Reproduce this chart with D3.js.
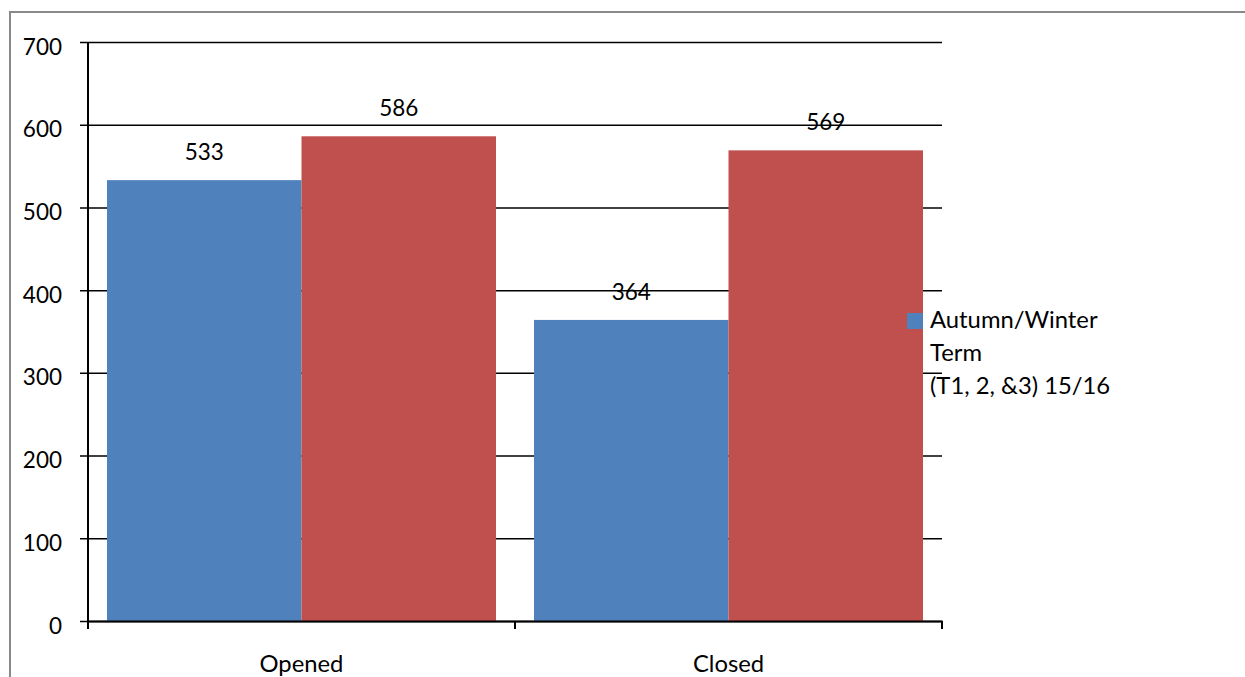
<!DOCTYPE html>
<html>
<head>
<meta charset="utf-8">
<script src="https://cdn.jsdelivr.net/npm/d3@7"></script>
<style>
  html, body { margin: 0; padding: 0; background: #fff; }
  svg { display: block; }
  text { font-family: Lato, "Open Sans", sans-serif; fill: #000; }
</style>
</head>
<body>
<svg id="chart" width="1245" height="677"></svg>
<script>
const categories = ["Opened", "Closed"];
const seriesNames = ["Autumn/Winter Term (T1, 2, &3) 15/16", "Series 2"];
const blueValues = [533, 364];
const redValues = [586, 569];
const yTicks = [0, 100, 200, 300, 400, 500, 600, 700];
const legendLines = ["Autumn/Winter", "Term", "(T1, 2, &3) 15/16"];
const colors = ["#4F81BD", "#C0504D"];

(function () {
const svg = d3.select("#chart");
const plotLeft = 88, plotRight = 942, plotTop = 42, plotBottom = 621;
const numSize = 22.5, wordSize = 23.8;

// outer border
svg.append("path")
  .attr("d", `M10,700 L10,12 L1260,12`)
  .attr("fill", "none").attr("stroke", "#898989").attr("stroke-width", 2);

const x0 = d3.scaleBand().domain(categories).range([plotLeft, plotRight]).padding(0);
const x1 = d3.scaleBand().domain(seriesNames).range([0, x0.bandwidth()])
  .paddingInner(0).paddingOuter(0.0977);
const y = d3.scaleLinear().domain([0, 700]).range([plotBottom, plotTop]);

// gridlines + y axis
const yAxis = d3.axisLeft(y).tickValues(yTicks).tickSizeOuter(0).tickFormat(d3.format("d"));
const gy = svg.append("g").attr("transform", `translate(${plotLeft},0)`).call(yAxis);
gy.select(".domain").remove();
gy.selectAll(".tick line").attr("x1", -8).attr("x2", plotRight - plotLeft)
  .attr("stroke", "#000").attr("stroke-width", 1.5);
gy.selectAll(".tick text").attr("x", -26).attr("dy", null).attr("y", 12)
  .attr("font-size", numSize).attr("font-family", "Lato").attr("fill", "#000")
  .attr("text-anchor", "end");

// bars
const data = categories.map((c, i) => ({ cat: c, vals: [blueValues[i], redValues[i]] }));
const groups = svg.append("g").selectAll("g").data(data).join("g")
  .attr("transform", d => `translate(${x0(d.cat)},0)`);
groups.selectAll("rect").data(d => d.vals.map((v, j) => ({ s: seriesNames[j], v, j })))
  .join("rect")
  .attr("x", d => x1(d.s))
  .attr("width", x1.bandwidth())
  .attr("y", d => y(d.v))
  .attr("height", d => y(0) - y(d.v))
  .attr("fill", d => colors[d.j]);
groups.selectAll("text.val").data(d => d.vals.map((v, j) => ({ s: seriesNames[j], v, j })))
  .join("text").attr("class", "val")
  .attr("x", d => x1(d.s) + x1.bandwidth() / 2)
  .attr("y", d => y(d.v) - 20)
  .attr("text-anchor", "middle")
  .attr("font-size", numSize)
  .text(d => d.v);

// y axis line
svg.append("line").attr("x1", plotLeft).attr("x2", plotLeft).attr("y1", plotTop).attr("y2", plotBottom)
  .attr("stroke", "#000").attr("stroke-width", 2);

// x axis
const xAxis = d3.axisBottom(x0).tickSize(0).tickSizeOuter(0);
const gx = svg.append("g").attr("transform", `translate(0,${plotBottom})`).call(xAxis);
gx.select(".domain").attr("stroke", "#000").attr("stroke-width", 2);
gx.selectAll(".tick line").remove();
gx.selectAll(".tick text").attr("y", 51).attr("dy", null)
  .attr("font-size", wordSize).attr("font-family", "Lato").attr("fill", "#000");
const xTickPos = categories.map(c => x0(c)).concat([plotRight]);
svg.append("g").selectAll("line").data(xTickPos).join("line")
  .attr("x1", d => d).attr("x2", d => d).attr("y1", plotBottom).attr("y2", plotBottom + 8)
  .attr("stroke", "#000").attr("stroke-width", 2);

// legend
svg.append("rect").attr("x", 907).attr("y", 313).attr("width", 16).attr("height", 16)
  .attr("fill", colors[0]);
svg.append("g").selectAll("text").data(legendLines).join("text")
  .attr("x", 930).attr("y", (d, i) => 328 + i * 32.8)
  .attr("font-size", wordSize)
  .text(d => d);
})();
</script>
</body>
</html>
